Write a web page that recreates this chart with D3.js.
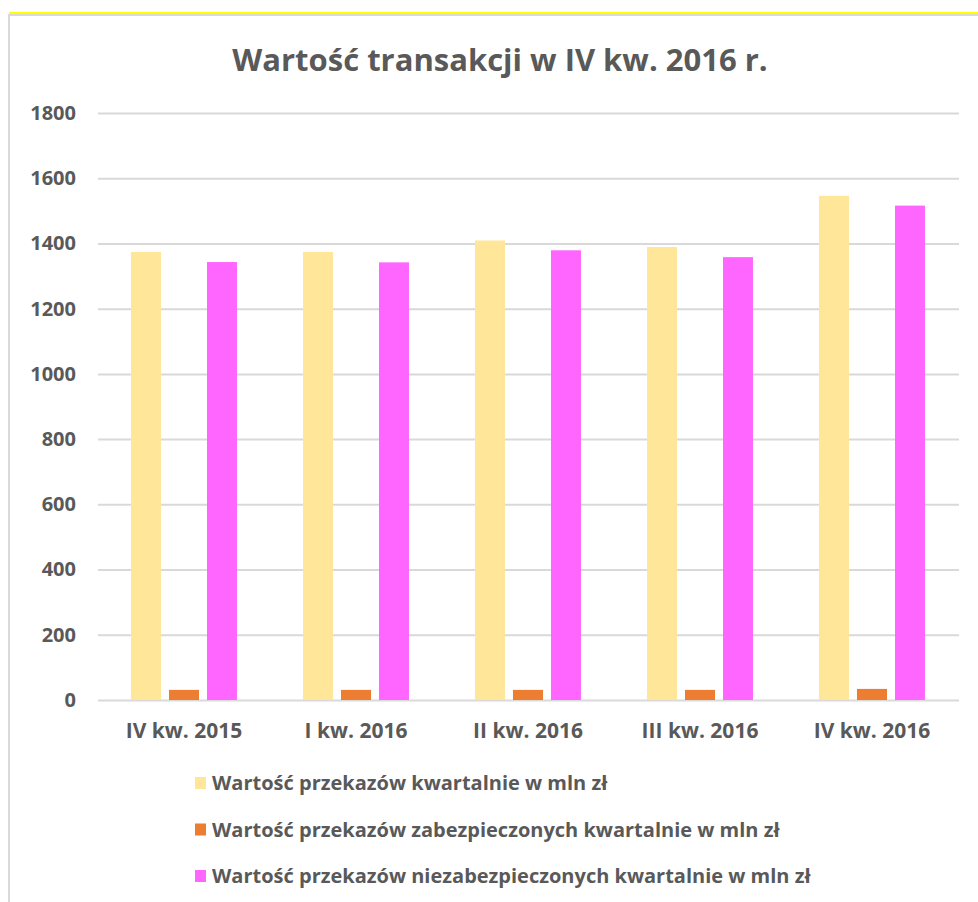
<!DOCTYPE html>
<html>
<head>
<meta charset="utf-8">
<script src="https://cdn.jsdelivr.net/npm/d3@7"></script>
<style>
  body { margin: 0; background: #fff; }
  text { font-family: "Open Sans", sans-serif; font-weight: 700; fill: #595959; }
</style>
</head>
<body>
<div id="chart"></div>
<script>
// data
const categories = ["IV kw. 2015", "I kw. 2016", "II kw. 2016", "III kw. 2016", "IV kw. 2016"]
const totalValues = [1374, 1374, 1409, 1389, 1546]
const securedValues = [31, 31, 31, 31, 34]
const unsecuredValues = [1343, 1342, 1379, 1358, 1516]
const seriesNames = [
  "Wartość przekazów kwartalnie w mln zł",
  "Wartość przekazów zabezpieczonych kwartalnie w mln zł",
  "Wartość przekazów niezabezpieczonych kwartalnie w mln zł"
]
const seriesColors = ["#FFE699", "#ED7D31", "#FF66FF"]
const yTicks = [0, 200, 400, 600, 800, 1000, 1200, 1400, 1600, 1800]

const seriesValues = [totalValues, securedValues, unsecuredValues]

let dimensions = {
  width: 978,
  height: 902,
  margin: { top: 113, right: 20, bottom: 202, left: 98 }
}
dimensions.innerWidth = 860
dimensions.innerHeight = dimensions.height - dimensions.margin.top - dimensions.margin.bottom

const svg = d3.select("#chart").append("svg")
  .attr("width", dimensions.width)
  .attr("height", dimensions.height)

// frame: grey left/top border, yellow highlight on top
svg.append("rect").attr("x", 8).attr("y", 14).attr("width", 2).attr("height", 888).attr("fill", "#D9D9D9")
svg.append("rect").attr("x", 8).attr("y", 14).attr("width", 970).attr("height", 2).attr("fill", "#D9D9D9")
svg.append("rect").attr("x", 9).attr("y", 12).attr("width", 969).attr("height", 2).attr("fill", "#FFFF00")

// title
svg.append("text")
  .attr("x", 500)
  .attr("y", 71)
  .attr("text-anchor", "middle")
  .style("font-size", "31px")
  .text("Wartość transakcji w IV kw. 2016 r.")

const inner = svg.append("g")
  .attr("transform", `translate(${dimensions.margin.left}, ${dimensions.margin.top})`)

// scales
const x0 = d3.scaleBand()
  .domain(categories)
  .range([0, dimensions.innerWidth])
  .paddingInner(0.384)
  .paddingOuter(0.192)

const x1 = d3.scaleBand()
  .domain(d3.range(seriesNames.length))
  .range([0, x0.bandwidth()])
  .paddingInner(8 / 38)

const yScale = d3.scaleLinear()
  .domain([0, 1800])
  .range([dimensions.innerHeight, 0])

// gridlines + y labels
const yAxis = d3.axisLeft(yScale)
  .tickValues(yTicks)
  .tickFormat(d3.format("d"))
  .tickSize(-(dimensions.innerWidth + 1))
  .tickPadding(22)

const yAxisGroup = inner.append("g").call(yAxis)
yAxisGroup.select(".domain").remove()
yAxisGroup.selectAll("line").attr("stroke", "#D9D9D9").attr("stroke-width", 2)
yAxisGroup.selectAll("text")
  .style("font-size", "20px")
  .attr("fill", "#595959")

// bars
const groups = inner.selectAll(".grp")
  .data(categories)
  .join("g")
  .attr("class", "grp")
  .attr("transform", d => `translate(${x0(d)}, 0)`)

groups.selectAll("rect")
  .data((d, i) => seriesValues.map((vals, s) => ({ s, v: vals[i] })))
  .join("rect")
  .attr("x", d => x1(d.s))
  .attr("y", d => yScale(d.v))
  .attr("width", x1.bandwidth())
  .attr("height", d => yScale(0) - yScale(d.v))
  .attr("fill", d => seriesColors[d.s])

// x labels
const xAxis = d3.axisBottom(x0).tickSize(0).tickPadding(23)
const xAxisGroup = inner.append("g")
  .attr("transform", `translate(0, ${dimensions.innerHeight})`)
  .call(xAxis)
xAxisGroup.select(".domain").remove()
xAxisGroup.selectAll("text")
  .style("font-size", "21px")
  .attr("fill", "#595959")

// legend
const legend = svg.append("g")
  .selectAll("g")
  .data(seriesNames)
  .join("g")
  .attr("transform", (d, i) => `translate(195, ${790 + i * 46.5})`)

legend.append("rect")
  .attr("x", 0)
  .attr("y", -13)
  .attr("width", 11)
  .attr("height", 12)
  .attr("fill", (d, i) => seriesColors[i])

legend.append("text")
  .attr("x", 17)
  .attr("y", 0)
  .style("font-size", "20px")
  .text(d => d)
</script>
</body>
</html>
